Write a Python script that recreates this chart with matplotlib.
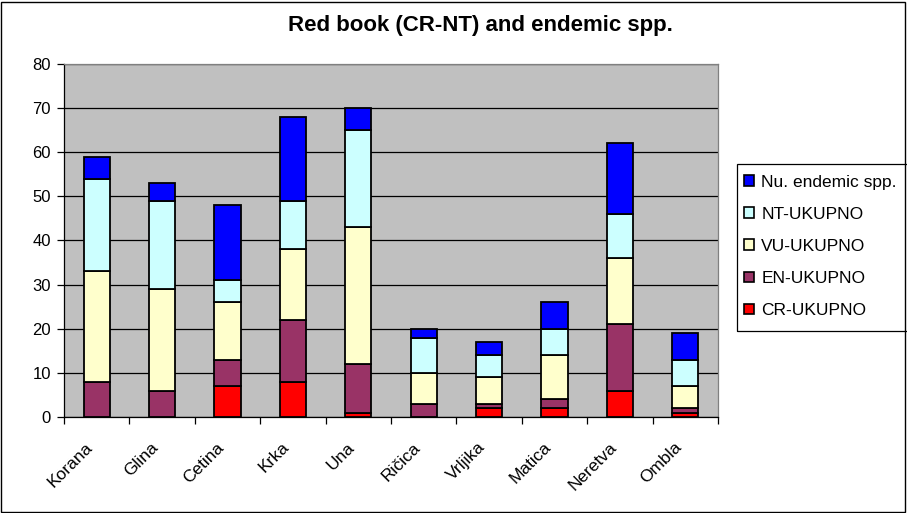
import matplotlib
matplotlib.use("Agg")
import matplotlib.pyplot as plt
import matplotlib.transforms as mtransforms
from matplotlib.patches import Rectangle, Patch
import numpy as np

categories = ["Korana", "Glina", "Cetina", "Krka", "Una", "Ričica", "Vrljika", "Matica", "Neretva", "Ombla"]
cr = [0, 0, 7, 8, 1, 0, 2, 2, 6, 1]
en = [8, 6, 6, 14, 11, 3, 1, 2, 15, 1]
vu = [25, 23, 13, 16, 31, 7, 6, 10, 15, 5]
nt = [21, 20, 5, 11, 22, 8, 5, 6, 10, 6]
endemic = [5, 4, 17, 19, 5, 2, 3, 6, 16, 6]

series_names = ["CR-UKUPNO", "EN-UKUPNO", "VU-UKUPNO", "NT-UKUPNO", "Nu. endemic spp."]
series_vals = [cr, en, vu, nt, endemic]
colors = ["#FF0000", "#993366", "#FFFFCC", "#CCFFFF", "#0000FF"]

plt.rcParams['font.family'] = ['Liberation Sans', 'DejaVu Sans']

W, H = 907, 513
fig = plt.figure(figsize=(W / 100, H / 100), dpi=100)
ax = fig.add_axes([64 / W, 1 - 417 / H, (718 - 64) / W, (417 - 64) / H])
ax.set_facecolor("#C0C0C0")

x = np.arange(len(categories))
bottom = np.zeros(len(categories))
handles = []
for name, vals, col in zip(series_names, series_vals, colors):
    v = np.array(vals, dtype=float)
    ax.bar(x, v, bottom=bottom, width=0.4, color=col, edgecolor="black", linewidth=1.3, zorder=3)
    bottom += v
    handles.append(Patch(facecolor=col, edgecolor="black", linewidth=1.2, label=name))

ax.set_xlim(-0.5, len(categories) - 0.5)
ax.set_ylim(0, 80)
ax.set_yticks(np.arange(0, 81, 10))
ax.yaxis.grid(True, color="black", linewidth=0.9, zorder=1)
ax.set_axisbelow(True)

ax.set_xticks(np.arange(-0.5, len(categories), 1.0))
ax.set_xticklabels([])
ax.tick_params(axis="x", length=5, direction="out", width=0.9)
ax.tick_params(axis="y", length=5, direction="out", width=0.9, labelsize=12, pad=4.5)

# category labels, rotated 45 degrees
blend = mtransforms.blended_transform_factory(ax.transData, ax.transAxes)
off = mtransforms.ScaledTranslation(-6 / 100, -28 / 100, fig.dpi_scale_trans)
for i, name in enumerate(categories):
    ax.text(x[i], 0, name, transform=blend + off, rotation=45, ha="right", va="center",
            rotation_mode="anchor", fontsize=12.5, clip_on=False)

for side in ["top", "right"]:
    ax.spines[side].set_color("#808080")
    ax.spines[side].set_linewidth(0.9)
for side in ["left", "bottom"]:
    ax.spines[side].set_color("black")
    ax.spines[side].set_linewidth(0.9)

fig.text(480 / W, 1 - 26 / H, "Red book (CR-NT) and endemic spp.", ha="center", va="center",
         fontsize=16, fontweight="bold")

fs = 12.5
leg = fig.legend(handles[::-1], series_names[::-1], loc="upper left",
                 bbox_to_anchor=(744 / W, 1 - 175 / H), frameon=False,
                 fontsize=fs, handlelength=0.58, handleheight=0.58, labelspacing=0.98,
                 borderpad=0, handletextpad=0.42, borderaxespad=0)

fig.patches.append(Rectangle((737 / W, 1 - 331 / H), (915 - 737) / W, (331 - 164) / H,
                             transform=fig.transFigure, fill=False, edgecolor="black",
                             linewidth=0.9, clip_on=False))

fig.patches.append(Rectangle((1 / W, 1 / H), (W - 3) / W, (H - 3) / H, transform=fig.transFigure,
                             fill=False, edgecolor="black", linewidth=1.0))

fig.savefig("out.png", dpi=100)
